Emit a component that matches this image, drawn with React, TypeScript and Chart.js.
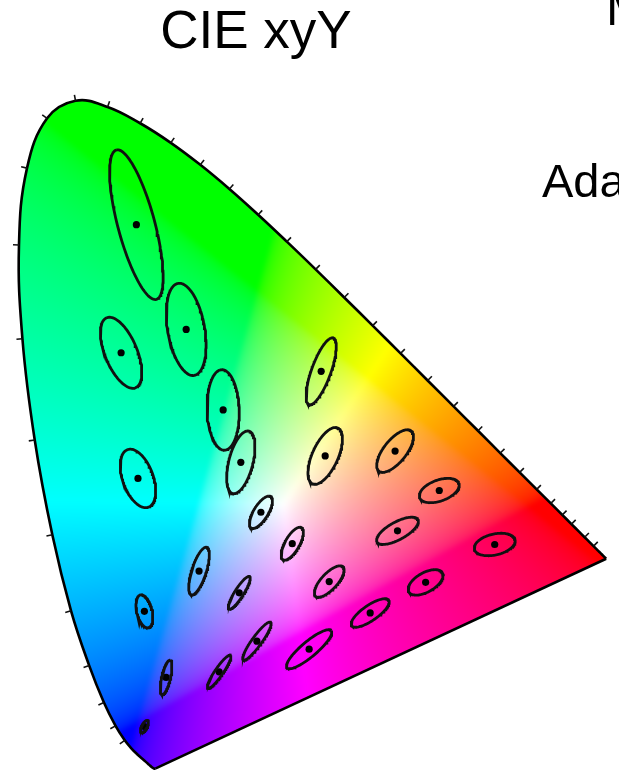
import React, { useEffect, useRef } from "react";
import { Chart, registerables } from "chart.js";

Chart.register(...registerables);

// CIE 1931 2° spectral locus, 5 nm steps (380–700 nm)
const WAVELENGTHS = [
  380, 385, 390, 395, 400, 405, 410, 415, 420, 425, 430, 435, 440, 445, 450, 455,
  460, 465, 470, 475, 480, 485, 490, 495, 500, 505, 510, 515, 520, 525, 530, 535,
  540, 545, 550, 555, 560, 565, 570, 575, 580, 585, 590, 595, 600, 605, 610, 615,
  620, 625, 630, 635, 640, 645, 650, 655, 660, 665, 670, 675, 680, 685, 690, 695, 700,
];
const LOCUS_X = [
  0.1741, 0.174, 0.1738, 0.1736, 0.1733, 0.173, 0.1726, 0.1721, 0.1714, 0.1703, 0.1689,
  0.1669, 0.1644, 0.1611, 0.1566, 0.151, 0.144, 0.1355, 0.1241, 0.1096, 0.0913, 0.0687,
  0.0454, 0.0235, 0.0082, 0.0039, 0.0139, 0.0389, 0.0743, 0.1142, 0.1547, 0.1929, 0.2296,
  0.2658, 0.3016, 0.3373, 0.3731, 0.4087, 0.4441, 0.4788, 0.5125, 0.5448, 0.5752, 0.6029,
  0.627, 0.6482, 0.6658, 0.6801, 0.6915, 0.7006, 0.7079, 0.714, 0.719, 0.723, 0.726,
  0.7283, 0.73, 0.7311, 0.732, 0.7327, 0.7334, 0.734, 0.7344, 0.7346, 0.7347,
];
const LOCUS_Y = [
  0.005, 0.005, 0.0049, 0.0049, 0.0048, 0.0048, 0.0048, 0.0048, 0.0051, 0.0058, 0.0069,
  0.0086, 0.0109, 0.0138, 0.0177, 0.0227, 0.0297, 0.0399, 0.0578, 0.0868, 0.1327, 0.2007,
  0.295, 0.4127, 0.5384, 0.6548, 0.7502, 0.812, 0.8338, 0.8262, 0.8059, 0.7816, 0.7543,
  0.7243, 0.6923, 0.6589, 0.6245, 0.5896, 0.5547, 0.5202, 0.4866, 0.4544, 0.4242, 0.3965,
  0.3725, 0.3514, 0.334, 0.3197, 0.3083, 0.2993, 0.292, 0.2859, 0.2809, 0.277, 0.274,
  0.2717, 0.27, 0.2689, 0.268, 0.2673, 0.2666, 0.266, 0.2656, 0.2654, 0.2653,
];
// wavelengths that carry a tick mark on the locus
const TICK_WAVELENGTHS = [
  465, 470, 475, 480, 485, 490, 495, 500, 505, 510, 515, 520, 525, 530, 535, 540, 545,
  550, 555, 560, 565, 570, 575, 580, 585, 590, 595, 600, 605, 610, 615, 620, 630, 640,
];

// MacAdam (1942) ellipses: centre (x, y), semi-axes a, b (×10⁻³) and angle θ (deg)
const ELLIPSE_X = [
  0.16, 0.187, 0.253, 0.15, 0.131, 0.212, 0.258, 0.152, 0.28, 0.38, 0.16, 0.228, 0.305,
  0.385, 0.472, 0.527, 0.475, 0.51, 0.596, 0.344, 0.39, 0.441, 0.278, 0.3, 0.365,
];
const ELLIPSE_Y = [
  0.057, 0.118, 0.125, 0.68, 0.521, 0.55, 0.45, 0.365, 0.385, 0.498, 0.2, 0.25, 0.323,
  0.393, 0.399, 0.35, 0.3, 0.236, 0.283, 0.284, 0.237, 0.198, 0.223, 0.163, 0.153,
];
const ELLIPSE_A = [
  0.85, 2.2, 2.5, 9.6, 4.7, 5.8, 5.0, 3.8, 4.0, 4.4, 2.1, 3.1, 2.3, 3.8, 3.2, 2.6, 2.9,
  2.4, 2.6, 2.3, 2.5, 2.8, 2.4, 2.9, 3.6,
];
const ELLIPSE_B = [
  0.35, 0.55, 0.5, 2.3, 2.0, 2.3, 2.0, 1.9, 1.5, 1.2, 0.95, 0.9, 0.9, 1.6, 1.4, 1.3, 1.1,
  1.2, 1.3, 0.9, 1.0, 0.95, 0.55, 0.6, 0.95,
];
const ELLIPSE_THETA = [
  62.5, 77, 55.5, 105, 112.5, 100, 92, 110, 75.5, 70, 104, 72, 58, 65.5, 51, 20, 28.5,
  29.5, 13, 60, 47, 34.5, 57.5, 54, 40,
];
const ELLIPSE_MAGNIFICATION = 10;

const TITLE = "CIE xyY";
const SIDE_TOP = "MacAdam";
const SIDE_MID = "Adams";

const W = 619;
const H = 774;

function ellipsePoints(i: number) {
  const a = (ELLIPSE_A[i] / 1000) * ELLIPSE_MAGNIFICATION;
  const b = (ELLIPSE_B[i] / 1000) * ELLIPSE_MAGNIFICATION;
  const th = (ELLIPSE_THETA[i] * Math.PI) / 180;
  const pts: { x: number; y: number }[] = [];
  const n = 120;
  for (let k = 0; k <= n; k++) {
    const t = (k / n) * Math.PI * 2;
    const ex = a * Math.cos(t);
    const ey = b * Math.sin(t);
    pts.push({
      x: ELLIPSE_X[i] + ex * Math.cos(th) - ey * Math.sin(th),
      y: ELLIPSE_Y[i] + ex * Math.sin(th) + ey * Math.cos(th),
    });
  }
  return pts;
}

function gammaEncode(c: number) {
  return c <= 0.0031308 ? 12.92 * c : 1.055 * Math.pow(c, 1 / 2.4) - 0.055;
}

// sRGB primaries, balanced so the equal-energy point renders white
const WHITE_R = 3.2406 - 1.5372 - 0.4986;
const WHITE_G = -0.9689 + 1.8758 + 0.0415;
const WHITE_B = 0.0557 - 0.204 + 1.057;

// chromaticity → display colour (clip negative channels, normalise to brightest)
function xyToRgb(x: number, y: number): [number, number, number] {
  const X = x / y;
  const Y = 1;
  const Z = (1 - x - y) / y;
  let r = (3.2406 * X - 1.5372 * Y - 0.4986 * Z) / WHITE_R;
  let g = (-0.9689 * X + 1.8758 * Y + 0.0415 * Z) / WHITE_G;
  let b = (0.0557 * X - 0.204 * Y + 1.057 * Z) / WHITE_B;
  r = Math.max(0, r);
  g = Math.max(0, g);
  b = Math.max(0, b);
  const m = Math.max(r, g, b) || 1;
  return [
    Math.round(255 * gammaEncode(r / m)),
    Math.round(255 * gammaEncode(g / m)),
    Math.round(255 * gammaEncode(b / m)),
  ];
}

// outline of the spectral curve (smoothed by the line element) closed by the purple line
function locusPath(chart: any, ctx: CanvasRenderingContext2D) {
  const meta = chart.getDatasetMeta(0);
  if (meta.dataset && meta.dataset.updateControlPoints) {
    meta.dataset.updateControlPoints(chart.chartArea, "x");
  }
  const pts = meta.data;
  ctx.beginPath();
  for (let i = 0; i < pts.length; i++) {
    const p = pts[i];
    if (i === 0) {
      ctx.moveTo(p.x, p.y);
    } else {
      const q = pts[i - 1];
      if (q.cp2x !== undefined && p.cp1x !== undefined) {
        ctx.bezierCurveTo(q.cp2x, q.cp2y, p.cp1x, p.cp1y, p.x, p.y);
      } else {
        ctx.lineTo(p.x, p.y);
      }
    }
  }
  ctx.closePath();
}

const gamutFill = {
  id: "gamutFill",
  beforeDatasetsDraw(chart: any) {
    const { ctx, scales } = chart;
    const sx = scales.x;
    const sy = scales.y;
    const w = chart.width;
    const h = chart.height;
    const off = document.createElement("canvas");
    off.width = w;
    off.height = h;
    const octx = off.getContext("2d")!;
    const img = octx.createImageData(w, h);
    const xs = new Float64Array(w);
    for (let px = 0; px < w; px++) xs[px] = sx.getValueForPixel(px + 0.5);
    for (let py = 0; py < h; py++) {
      const yv = sy.getValueForPixel(py + 0.5);
      if (yv <= 0.0005) continue;
      for (let px = 0; px < w; px++) {
        const [r, g, b] = xyToRgb(xs[px], yv);
        const o = (py * w + px) * 4;
        img.data[o] = r;
        img.data[o + 1] = g;
        img.data[o + 2] = b;
        img.data[o + 3] = 255;
      }
    }
    octx.putImageData(img, 0, 0);
    ctx.save();
    locusPath(chart, ctx);
    ctx.clip();
    ctx.filter = "blur(2px)";
    ctx.drawImage(off, 0, 0);
    ctx.filter = "none";
    ctx.restore();
  },
};

const locusTicks = {
  id: "locusTicks",
  afterDatasetsDraw(chart: any) {
    const { ctx, scales } = chart;
    const sx = scales.x;
    const sy = scales.y;
    ctx.save();
    ctx.strokeStyle = "#111";
    ctx.lineWidth = 1.6;
    for (const wl of TICK_WAVELENGTHS) {
      const i = WAVELENGTHS.indexOf(wl);
      if (i <= 0 || i >= WAVELENGTHS.length - 1) continue;
      const px = sx.getPixelForValue(LOCUS_X[i]);
      const py = sy.getPixelForValue(LOCUS_Y[i]);
      const dx = sx.getPixelForValue(LOCUS_X[i + 1]) - sx.getPixelForValue(LOCUS_X[i - 1]);
      const dy = sy.getPixelForValue(LOCUS_Y[i + 1]) - sy.getPixelForValue(LOCUS_Y[i - 1]);
      const len = Math.hypot(dx, dy) || 1;
      const nx = dy / len;
      const ny = -dx / len;
      ctx.beginPath();
      ctx.moveTo(px, py);
      ctx.lineTo(px + nx * 6, py + ny * 6);
      ctx.stroke();
    }
    ctx.restore();
  },
};

const labels = {
  id: "labels",
  afterDraw(chart: any) {
    const { ctx } = chart;
    ctx.save();
    ctx.fillStyle = "#000";
    ctx.textBaseline = "alphabetic";
    ctx.font = '53px "Liberation Sans", Arial, sans-serif';
    ctx.textAlign = "center";
    ctx.fillText(TITLE, 256, 48);
    ctx.textAlign = "left";
    ctx.font = '50px "Liberation Sans", Arial, sans-serif';
    ctx.fillText(SIDE_TOP, 606, 25);
    ctx.font = '47px "Liberation Sans", Arial, sans-serif';
    ctx.fillText(SIDE_MID, 542, 197);
    ctx.restore();
  },
};

export default function App() {
  const ref = useRef<HTMLCanvasElement | null>(null);

  useEffect(() => {
    if (!ref.current) return;
    const spectral = LOCUS_X.map((x, i) => ({ x, y: LOCUS_Y[i] }));
    const last = LOCUS_X.length - 1;
    const purpleLine = [
      { x: LOCUS_X[last], y: LOCUS_Y[last] },
      { x: LOCUS_X[0], y: LOCUS_Y[0] },
    ];

    const ellipseSets = ELLIPSE_X.map((_, i) => ({
      data: ellipsePoints(i),
      showLine: true,
      borderColor: "#111",
      borderWidth: 2.8,
      pointRadius: 0,
      fill: false,
      tension: 0,
    }));

    const chart = new Chart(ref.current, {
      type: "scatter",
      data: {
        datasets: [
          {
            data: spectral,
            showLine: true,
            borderColor: "#000",
            borderWidth: 2.6,
            pointRadius: 0,
            fill: false,
            tension: 0.4,
          },
          {
            data: purpleLine,
            showLine: true,
            borderColor: "#000",
            borderWidth: 2.6,
            pointRadius: 0,
            fill: false,
            tension: 0,
          },
          ...ellipseSets,
          {
            data: ELLIPSE_X.map((x, i) => ({ x, y: ELLIPSE_Y[i] })),
            showLine: false,
            pointRadius: 3.6,
            pointBackgroundColor: "#000",
            pointBorderWidth: 0,
            pointBorderColor: "#000",
          },
        ],
      },
      options: {
        animation: false,
        responsive: false,
        devicePixelRatio: 1,
        layout: { padding: 0 },
        events: [],
        plugins: {
          legend: { display: false },
          tooltip: { enabled: false },
          title: { display: false },
        },
        scales: {
          x: { type: "linear", min: -12 / 814, max: (W - 12) / 814, display: false },
          y: { type: "linear", min: (776.5 - H) / 814, max: 776.5 / 814, display: false },
        },
      },
      plugins: [gamutFill, locusTicks, labels],
    });
    return () => chart.destroy();
  }, []);

  return (
    <div style={{ position: "absolute", left: 0, top: 0, width: W, height: H, background: "#fff" }}>
      <canvas ref={ref} width={W} height={H} style={{ display: "block" }} />
    </div>
  );
}
